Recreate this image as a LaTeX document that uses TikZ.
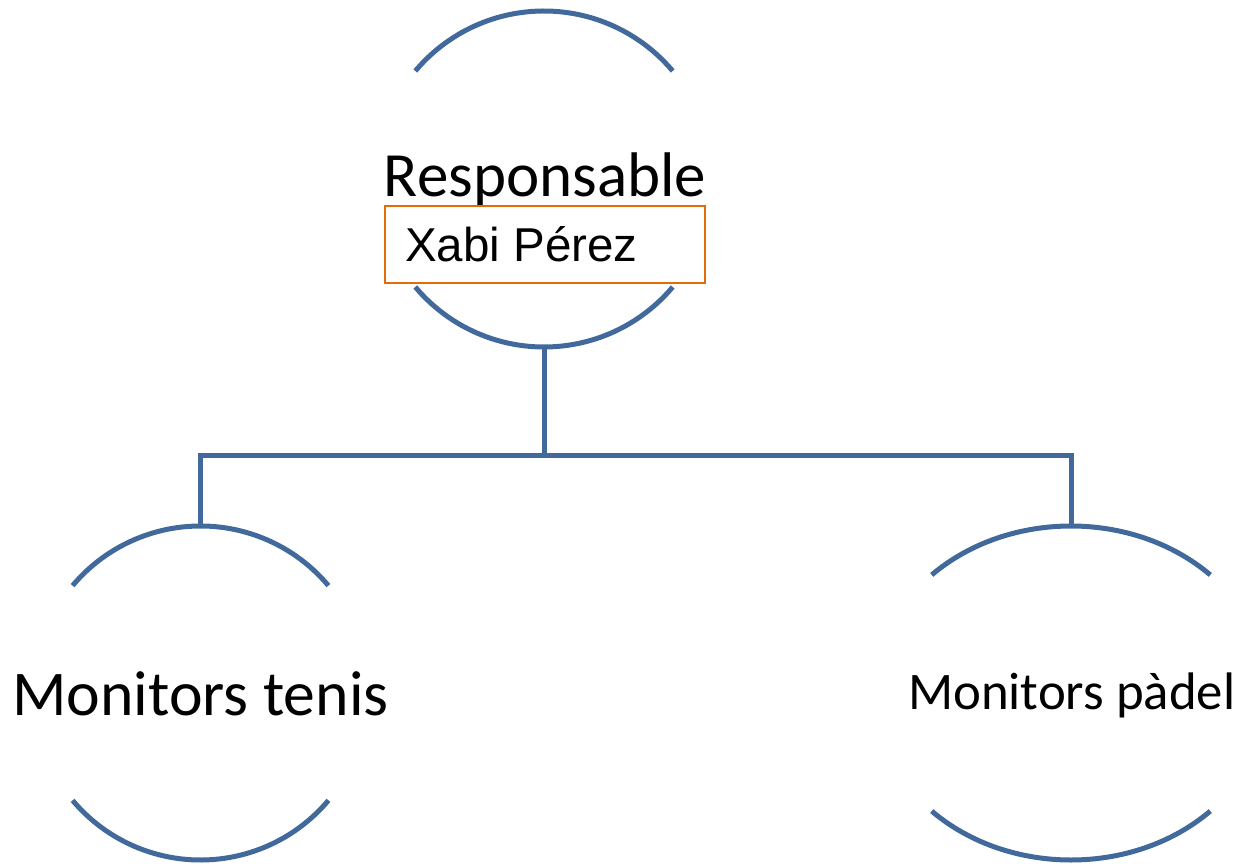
\documentclass[tikz,border=0pt]{standalone}
\usepackage{fontspec}
\setmainfont{Carlito}
\newfontfamily\arialfont{Liberation Sans}
\usetikzlibrary{shapes.geometric}
\definecolor{lineblue}{RGB}{65,105,155}
\definecolor{boxorange}{RGB}{227,108,10}
\begin{document}
\begin{tikzpicture}[x=1pt,y=1pt,
  arcline/.style={draw=lineblue,line width=5pt},
  holder/.style={circle,draw=none,inner sep=0pt,minimum size=#1},
  lbl/.style={anchor=base,inner sep=0pt,text=black}]
\useasboundingbox (0,0) rectangle (1241,863);
% invisible shape holders
\node[holder=336pt] (top) at (544,684) {};
\node[holder=334pt] (left) at (200.5,170) {};
\node[ellipse,draw=none,inner sep=0pt,minimum width=394pt,minimum height=334pt] (right) at (1071,170) {};
% arcs
\draw[arcline] ([shift={(40:168)}]top.center) arc (40:140:168);
\draw[arcline] ([shift={(220:168)}]top.center) arc (220:320:168);
\draw[arcline] ([shift={(40:167)}]left.center) arc (40:140:167);
\draw[arcline] ([shift={(220:167)}]left.center) arc (220:320:167);
\draw[arcline] ([shift={({197*cos(45)},{167*sin(45)})}]right.center) arc[start angle=45,end angle=135,x radius=197,y radius=167];
\draw[arcline] ([shift={({197*cos(225)},{167*sin(225)})}]right.center) arc[start angle=225,end angle=315,x radius=197,y radius=167];
% connectors
\coordinate (bus) at (544,408);
\draw[arcline] (top.south) -- (bus);
\draw[arcline] (left.north) |- (bus) -| (right.north);
% labels
\node[lbl] (resp) at (545,666.3) {\fontsize{63}{70}\selectfont Responsable};
\node[draw=boxorange,line width=2pt,minimum width=320pt,minimum height=77pt,inner sep=0pt] (xbox) at (545,618.5) {};
\node[lbl,anchor=base west] (xabi) at (405,601.3) {\arialfont\fontsize{47.5}{52}\selectfont Xabi Pérez};
\node[lbl] (tenis) at (200.5,148) {\fontsize{63.7}{70}\selectfont Monitors tenis};
\node[lbl] (padel) at (1071.7,153.7) {\fontsize{52.8}{60}\selectfont Monitors pàdel};
\end{tikzpicture}
\end{document}
